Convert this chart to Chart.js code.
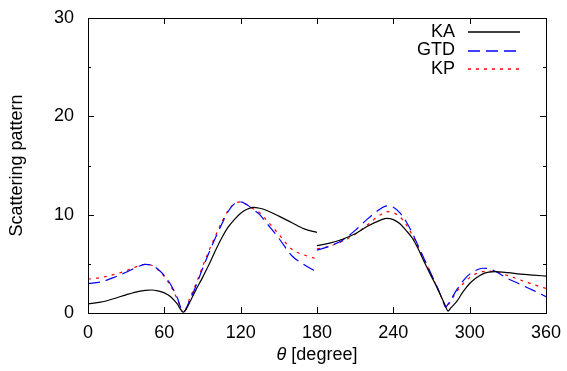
<!DOCTYPE html>
<html>
<head>
<meta charset="utf-8">
<script src="https://cdn.jsdelivr.net/npm/chart.js@4/dist/chart.umd.min.js"></script>
<style>
  html, body { margin: 0; padding: 0; background: #fff; }
  #wrap { width: 567px; height: 371px; }
</style>
</head>
<body>
<div id="wrap"><canvas id="c" width="567" height="371"></canvas></div>
<script>
// angles (degree), two branches split at 180
const angleLeft  = [0, 10, 20, 30, 40, 45, 50, 55, 60, 65, 70, 75, 80, 85, 90, 95, 100, 105, 110, 115, 120, 125, 130, 135, 140, 150, 160, 170, 180];
const angleRight = [180, 190, 200, 210, 220, 230, 235, 240, 245, 250, 255, 260, 265, 270, 275, 280, 281, 283, 285, 290, 295, 300, 305, 310, 315, 320, 330, 340, 350, 360];

const kaLeft  = [0.92, 1.1, 1.45, 1.85, 2.2, 2.3, 2.34, 2.25, 2.05, 1.65, 0.95, 0.08, 1.1, 2.4, 3.6, 4.9, 6.3, 7.6, 8.7, 9.5, 10.15, 10.55, 10.75, 10.65, 10.45, 9.85, 9.2, 8.55, 8.2];
const gtdLeft = [3.0, 3.15, 3.6, 4.15, 4.75, 4.95, 4.85, 4.45, 3.8, 2.9, 1.6, 0.1, 1.3, 2.8, 4.5, 6.1, 7.6, 9.0, 10.3, 11.1, 11.3, 11.0, 10.5, 10.0, 9.2, 7.6, 5.85, 4.9, 4.15];
const kpLeft  = [3.45, 3.6, 3.9, 4.3, 4.8, 4.95, 4.85, 4.4, 3.7, 2.75, 1.45, 0.05, 1.5, 3.0, 4.7, 6.3, 7.8, 9.2, 10.4, 11.1, 11.3, 11.0, 10.6, 10.2, 9.5, 8.0, 6.5, 5.9, 5.5];

const kaRight  = [6.85, 7.1, 7.5, 8.05, 8.85, 9.45, 9.63, 9.5, 9.1, 8.4, 7.6, 6.4, 5.0, 3.7, 2.4, 1.0, 0.7, 0.2, 0.5, 1.2, 2.2, 3.0, 3.55, 3.95, 4.15, 4.2, 4.1, 3.95, 3.85, 3.76];
const gtdRight = [6.4, 6.8, 7.4, 8.4, 9.6, 10.6, 10.9, 10.75, 10.2, 9.3, 8.1, 6.7, 5.3, 3.9, 2.5, 0.9, 0.6, 0.9, 1.3, 2.4, 3.3, 3.95, 4.35, 4.55, 4.5, 4.25, 3.5, 2.9, 2.3, 1.66];
const kpRight  = [6.5, 6.8, 7.3, 8.0, 9.0, 10.0, 10.3, 10.2, 9.8, 9.0, 7.9, 6.6, 5.2, 3.85, 2.45, 0.9, 0.6, 0.8, 1.2, 2.2, 3.0, 3.6, 4.0, 4.2, 4.27, 4.2, 3.8, 3.35, 2.9, 2.5];

const xTicks = [0, 60, 120, 180, 240, 300, 360];
const yTicks = [0, 10, 20, 30];

const FONT = { family: '"Liberation Sans", Arial, sans-serif', size: 18 };

// join both branches with a null so the line breaks at 180
function branches(left, right) {
  const pts = angleLeft.map((a, i) => ({ x: a, y: left[i] }));
  pts.push({ x: 180, y: null });
  return pts.concat(angleRight.map((a, i) => ({ x: a, y: right[i] })));
}

const series = [
  { label: 'KA',  data: branches(kaLeft, kaRight),   color: '#000000', dash: [] },
  { label: 'GTD', data: branches(gtdLeft, gtdRight), color: '#0000ff', dash: [12, 6] },
  { label: 'KP',  data: branches(kpLeft, kpRight),   color: '#ff0000', dash: [3, 5] },
];

// gnuplot-like frame with inward ticks on all four sides
const framePlugin = {
  id: 'frame',
  afterDraw(chart) {
    const { ctx, chartArea: a, scales } = chart;
    ctx.save();
    ctx.strokeStyle = '#000';
    ctx.lineWidth = 1;
    ctx.setLineDash([]);
    ctx.strokeRect(a.left + 0.5, a.top + 0.5, a.right - a.left, a.bottom - a.top);
    ctx.beginPath();
    scales.x.ticks.forEach(t => {
      const px = Math.round(scales.x.getPixelForValue(t.value)) + 0.5;
      ctx.moveTo(px, a.bottom); ctx.lineTo(px, a.bottom - 6);
      ctx.moveTo(px, a.top); ctx.lineTo(px, a.top + 6);
    });
    scales.y.ticks.forEach(t => {
      const py = Math.round(scales.y.getPixelForValue(t.value)) + 0.5;
      const len = t.value % 10 === 0 ? 6 : 3;
      ctx.moveTo(a.left, py); ctx.lineTo(a.left + len, py);
      ctx.moveTo(a.right, py); ctx.lineTo(a.right - len, py);
    });
    ctx.stroke();

    // x title with an italic theta
    const y = 355;
    const cx = (a.left + a.right) / 2;
    ctx.fillStyle = '#000';
    ctx.textBaseline = 'middle';
    ctx.textAlign = 'left';
    ctx.font = `italic ${FONT.size}px ${FONT.family}`;
    const w1 = ctx.measureText('θ').width;
    ctx.font = `${FONT.size}px ${FONT.family}`;
    const rest = ' [degree]';
    const w2 = ctx.measureText(rest).width;
    const x0 = cx - (w1 + w2) / 2;
    ctx.font = `italic ${FONT.size}px ${FONT.family}`;
    ctx.fillText('θ', x0, y);
    ctx.font = `${FONT.size}px ${FONT.family}`;
    ctx.fillText(rest, x0 + w1, y);

    // key in the top-right corner: label right-aligned, then a line sample
    ctx.textAlign = 'right';
    series.forEach((s, i) => {
      const ly = 32 + i * 18.5;
      ctx.fillStyle = '#000';
      ctx.fillText(s.label, 455, ly);
      ctx.beginPath();
      ctx.strokeStyle = s.color;
      ctx.lineWidth = 1.4;
      ctx.setLineDash(s.dash);
      ctx.moveTo(468, Math.round(ly));
      ctx.lineTo(520, Math.round(ly));
      ctx.stroke();
    });
    ctx.restore();
  }
};

new Chart(document.getElementById('c'), {
  type: 'line',
  data: {
    datasets: series.map(s => ({
      label: s.label,
      data: s.data,
      borderColor: s.color,
      borderDash: s.dash,
      borderWidth: 1.2,
      fill: false,
      pointRadius: 0,
      cubicInterpolationMode: 'monotone',
      spanGaps: false,
    })),
  },
  options: {
    responsive: false,
    animation: false,
    layout: { padding: { top: 18, right: 21, left: 0, bottom: 0 } },
    plugins: { legend: { display: false }, tooltip: { enabled: false } },
    scales: {
      x: {
        type: 'linear',
        min: 0,
        max: 360,
        afterBuildTicks: s => { s.ticks = xTicks.map(v => ({ value: v })); },
        afterFit: s => { s.height = 58; },
        grid: { display: false },
        border: { display: false },
        ticks: { font: FONT, color: '#000', padding: 1, maxRotation: 0, autoSkip: false },
        title: { display: false },
      },
      y: {
        min: 0,
        max: 30,
        ticks: {
          stepSize: 5,
          autoSkip: false,
          font: FONT,
          color: '#000',
          padding: 6,
          callback: v => (yTicks.includes(v) ? String(v) : ''),
        },
        afterFit: s => { s.width = 88; },
        grid: { display: false },
        border: { display: false },
        title: { display: true, text: 'Scattering pattern', font: FONT, color: '#000', padding: { top: 6, bottom: 0 } },
      },
    },
  },
  plugins: [framePlugin],
});
</script>
</body>
</html>
